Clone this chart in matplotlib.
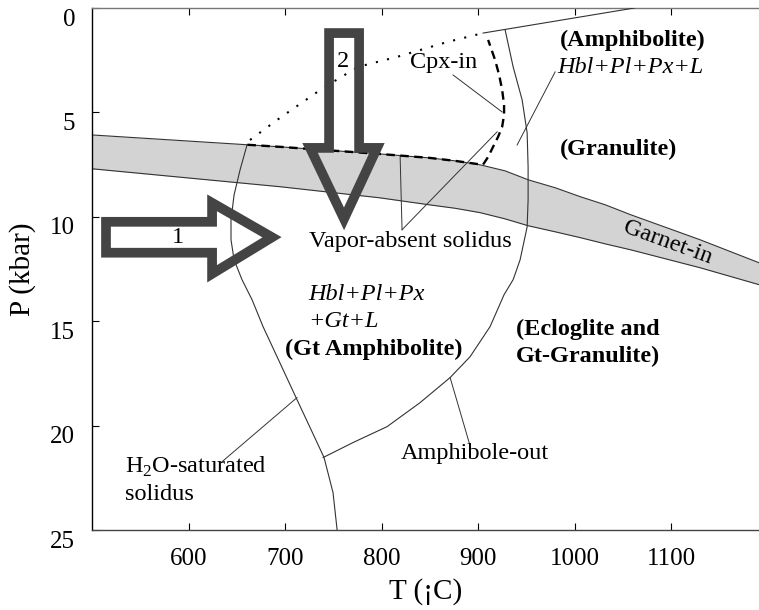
import matplotlib
matplotlib.use("Agg")
import matplotlib.pyplot as plt
import matplotlib.transforms as mtransforms
from matplotlib.patches import Polygon

plt.rcParams["font.family"] = ["Liberation Serif", "DejaVu Serif"]
plt.rcParams["mathtext.fontset"] = "custom"
plt.rcParams["mathtext.rm"] = "Liberation Serif"

# --- data (T in degC, P in kbar) ---
band_t = [500, 695, 798, 850, 876, 902, 928, 952, 980, 1006, 1032, 1058, 1130, 1191]
band_top = [6.08, 6.65, 6.99, 7.18, 7.32, 7.51, 7.80, 8.23, 8.61, 9.04, 9.43, 9.90, 11.10, 12.20]
band_bot = [7.70, 8.56, 9.09, 9.43, 9.59, 9.80, 10.10, 10.43, 10.72, 11.00, 11.30, 11.58, 12.44, 13.25]

h2o_t = [660.6, 653.4, 647.2, 644.0, 644.0, 647.2, 655.4, 665.8, 677.2, 691.7,
         712.4, 727.0, 740.4, 749.7, 753.9]
h2o_p = [6.56, 7.75, 8.95, 10.14, 11.10, 12.06, 13.01, 13.97, 15.26, 16.70,
         18.76, 20.20, 21.53, 23.21, 24.98]

amph_t = [928.0, 936.3, 945.6, 950.8, 951.8, 951.8, 950.8, 943.5, 936.3, 926.9,
          912.4, 891.7, 871.0, 839.9, 805.7, 770.5, 739.4]
amph_p = [1.05, 2.82, 4.40, 5.98, 7.61, 9.19, 10.48, 12.06, 13.01, 13.73,
          15.26, 16.70, 17.70, 18.90, 20.05, 20.81, 21.53]

# vapor-absent solidus along the garnet-in band, continuing as Cpx-in
vabs_t = [661, 695, 798, 850, 876, 905, 910.4, 915.5, 920.7, 924.9, 926.9, 926.9,
          924.9, 921.8, 917.6, 910.4]
vabs_p = [6.55, 6.65, 6.99, 7.18, 7.32, 7.51, 7.13, 6.65, 6.17, 5.69, 5.12, 4.64,
          3.92, 3.21, 2.49, 1.53]

dot_t = [663.7, 694.8, 739.4, 775.6, 816.1, 867.9, 905.2]
dot_p = [6.32, 5.26, 3.83, 2.82, 2.34, 1.63, 1.20]

top_t = [905.2, 1062]
top_p = [1.20, 0.0]

# leader lines from labels to curves
leaders = [
    ([712.4, 633.7], [18.66, 21.77]),   # H2O-saturated solidus
    ([871.0, 890.7], [17.70, 20.81]),   # Amphibole-out
    ([819.2, 821.2], [7.08, 10.62]),    # Vapor-absent solidus
    ([821.2, 919.7], [10.62, 5.93]),
    ([874.1, 924.9], [3.21, 4.98]),     # Cpx-in
    ([979.8, 940.4], [3.06, 6.56]),     # Hbl+Pl+Px+L
]

arrow1_t = [514.5, 624.4, 624.4, 686.5, 624.4, 624.4, 514.5]
arrow1_p = [10.24, 10.24, 9.33, 10.98, 12.73, 11.72, 11.72]
arrow2_t = [745.6, 745.6, 725.9, 761.1, 795.3, 776.7, 776.7]
arrow2_p = [1.20, 6.70, 6.70, 10.10, 6.70, 6.70, 1.20]

fig = plt.figure(figsize=(7.59, 6.10), dpi=100)
ax = fig.add_axes([92 / 759, 80 / 610, 667 / 759, 522 / 610])
ax.set_xlim(500, 1191)
ax.set_ylim(25, 0)

ax.fill_between(band_t, band_top, band_bot, color="#d3d3d3", lw=0, zorder=1)
ax.plot(band_t, band_top, color="#333333", lw=0.8, zorder=2)
ax.plot(band_t, band_bot, color="#333333", lw=0.8, zorder=2)

thin = dict(color="#333333", lw=0.8, zorder=3)
ax.plot(h2o_t, h2o_p, **thin)
ax.plot(amph_t, amph_p, **thin)
ax.plot(top_t, top_p, **thin)
for lt, lp in leaders:
    ax.plot(lt, lp, color="#333333", lw=0.7, zorder=3)

ax.plot(vabs_t, vabs_p, color="black", lw=1.7, ls=(0, (3.6, 2.3)), zorder=4)
ax.plot(dot_t, dot_p, color="black", lw=1.5, ls=(0, (1, 4.5)), zorder=4)

for at, ap in ((arrow1_t, arrow1_p), (arrow2_t, arrow2_p)):
    ax.add_patch(Polygon(list(zip(at, ap)), closed=True, fill=False,
                         edgecolor="#444444", lw=7, joinstyle="miter", zorder=5))

fs = 17.5
ax.text(589, 11.0, "1", fontsize=fs, ha="center", va="center", zorder=6)
ax.text(760, 2.58, "2", fontsize=fs, ha="center", va="center", zorder=6)
ax.text(829.5, 2.63, "Cpx-in", fontsize=fs, va="center")
ax.text(985, 1.53, "(Amphibolite)", fontsize=fs, weight="bold", va="center")
ax.text(982, 2.87, "Hbl+Pl+Px+L", fontsize=fs, style="italic", va="center")
ax.text(985, 6.79, "(Granulite)", fontsize=fs, weight="bold", va="center")
ax.text(725, 11.20, "Vapor-absent solidus", fontsize=fs, va="center")
ax.text(724, 13.73, "Hbl+Pl+Px", fontsize=fs, style="italic", va="center")
ax.text(724, 15.02, "+Gt+L", fontsize=fs, style="italic", va="center")
ax.text(700, 16.36, "(Gt Amphibolite)", fontsize=fs, weight="bold", va="center")
ax.text(939.4, 15.41, "(Ecloglite and", fontsize=fs, weight="bold", va="center")
ax.text(939.4, 16.70, "Gt-Granulite)", fontsize=fs, weight="bold", va="center")
ax.text(820.2, 21.34, "Amphibole-out", fontsize=fs, va="center")
ax.text(534.2, 21.96, r"H$_\mathregular{2}$O-saturated", fontsize=fs, va="center")
ax.text(534.2, 23.30, "solidus", fontsize=fs, va="center")
ax.text(1096, 11.24, "Garnet-in", fontsize=fs, rotation=-20,
        ha="center", va="center", rotation_mode="anchor")

ax.set_xticks([600, 700, 800, 900, 1000, 1100])
ax.set_yticks([0, 5, 10, 15, 20, 25])
ax.tick_params(direction="in", length=5, width=0.8, labelsize=18, top=True, right=False)
ax.tick_params(axis="y", pad=12)
ax.tick_params(axis="x", pad=13)
shift = mtransforms.ScaledTranslation(0, -9 / 100, fig.dpi_scale_trans)
for lab in ax.get_yticklabels():
    lab.set_transform(lab.get_transform() + shift)

ax.spines["right"].set_visible(False)
ax.spines["top"].set_color("#777777")
ax.spines["bottom"].set_color("#444444")
ax.spines["left"].set_color("black")
for s in ("top", "bottom", "left"):
    ax.spines[s].set_linewidth(1.0)

ax.set_xlabel("T (¡C)", fontsize=21, labelpad=6)
ax.set_ylabel("P (kbar)", fontsize=21, labelpad=10)

fig.savefig("out.png", dpi=100)
